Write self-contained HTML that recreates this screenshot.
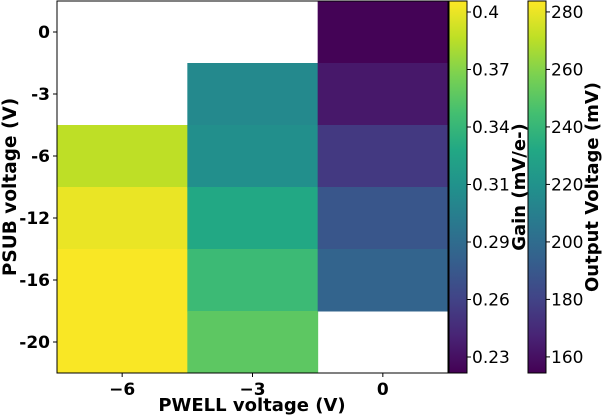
<!DOCTYPE html>
<html><head><meta charset="utf-8">
<style>
body{margin:0;background:#fff;}
svg text{font-family:"DejaVu Sans","Liberation Sans",sans-serif;}
</style></head>
<body>
<svg id="chart" width="604" height="415" xmlns="http://www.w3.org/2000/svg">
<defs>
<linearGradient id="vir" x1="0" y1="1" x2="0" y2="0"></linearGradient>
</defs>
</svg>
<script>
const xCats = ["−6","−3","0"];
const yCats = ["0","-3","-6","-12","-16","-20"];
// output voltage (mV) per column (PWELL -6, -3, 0), rows top->bottom; null = missing
const col0 = [null, null, 271, 280, 283, 283];
const col1 = [null, 215, 218, 232, 242, 251];
const col2 = [155, 163, 176, 189, 196, null];
const gainTicks = ["0.4","0.37","0.34","0.31","0.29","0.26","0.23"];
const voltTicks = [280,260,240,220,200,180,160];

const vmin = 154.4, vmax = 283.8;
const viridis = ["#440154","#482475","#414487","#355f8d","#2a788e","#21918c","#22a884","#44bf70","#7ad151","#bddf26","#fde725"];
function hex(c){return [1,3,5].map(i=>parseInt(c.substr(i,2),16));}
function cmap(t){t=Math.max(0,Math.min(1,t));const p=t*10,i=Math.min(9,Math.floor(p)),f=p-i;
  const a=hex(viridis[i]),b=hex(viridis[i+1]);return "rgb("+a.map((v,k)=>Math.round(v+(b[k]-v)*f)).join(",")+")";}

const svg=document.getElementById('chart');const NS="http://www.w3.org/2000/svg";
function el(tag,attrs,parent){const e=document.createElementNS(NS,tag);for(const k in attrs)e.setAttribute(k,attrs[k]);(parent||svg).appendChild(e);return e;}
const X0=57,X1=448,Y0=1,Y1=373;
const cw=(X1-X0)/xCats.length, ch=(Y1-Y0)/yCats.length;
const xPos=i=>X0+i*cw, yPos=j=>Y0+j*ch;
const cols=[col0,col1,col2];
const g=el('g',{});


cols.forEach((col,i)=>col.forEach((v,j)=>{if(v===null)return;
  const r=el('rect',{x:xPos(i),y:yPos(j),width:cw+0.5,height:ch+0.5,fill:cmap((v-vmin)/(vmax-vmin))},g);
  
  
}));
const frame=el('rect',{x:X0,y:Y0,width:X1-X0,height:Y1-Y0,fill:'none',stroke:'#000','stroke-width':1});


xCats.forEach((c,i)=>{const cx=xPos(i)+cw/2;
  el('line',{x1:cx,x2:cx,y1:Y1,y2:Y1+4,stroke:'#000'});
  const t=el('text',{x:cx,y:Y1+22,'text-anchor':'middle','font-size':17,'font-weight':'bold'});t.textContent=c;
  
  });
yCats.forEach((c,j)=>{const cy=yPos(j)+ch/2;
  el('line',{x1:X0-4,x2:X0,y1:cy,y2:cy,stroke:'#000'});
  const t=el('text',{x:X0-7,y:cy+6,'text-anchor':'end','font-size':17,'font-weight':'bold'});t.textContent=c;
  
  });
let t=el('text',{x:252,y:411,'text-anchor':'middle','font-size':18,'font-weight':'bold'});t.textContent="PWELL voltage (V)";


t=el('text',{x:0,y:0,'text-anchor':'middle','font-size':18.5,'font-weight':'bold',transform:'translate(16,187) rotate(-90)'});t.textContent="PSUB voltage (V)";


const gr=document.getElementById('vir');
viridis.forEach((c,i)=>el('stop',{offset:(i*10)+'%','stop-color':c},gr));
function colorbar(x,name,ticks,tickY,label,labelX){
  const r=el('rect',{x:x,y:Y0,width:18,height:Y1-Y0,fill:'url(#vir)',stroke:'#000','stroke-width':1});
  
  
  ticks.forEach((v,i)=>{const y=tickY(v,i);
    el('line',{x1:x+18,x2:x+22,y1:y,y2:y,stroke:'#000'});
    const tt=el('text',{x:x+23,y:y+6,'font-size':17});tt.textContent=v;
    
    });
  const lt=el('text',{x:0,y:0,'text-anchor':'middle','font-size':18,'font-weight':'bold',transform:'translate('+labelX+',187) rotate(-90)'});lt.textContent=label;
  
  
}
colorbar(449,'gain-colorbar',gainTicks,(v,i)=>12+i*(345/(gainTicks.length-1)),'Gain (mV/e-)',525);
colorbar(528,'voltage-colorbar',voltTicks,(v)=>Y1-(v-vmin)/(vmax-vmin)*(Y1-Y0),'Output Voltage (mV)',598);
</script>
</body></html>
